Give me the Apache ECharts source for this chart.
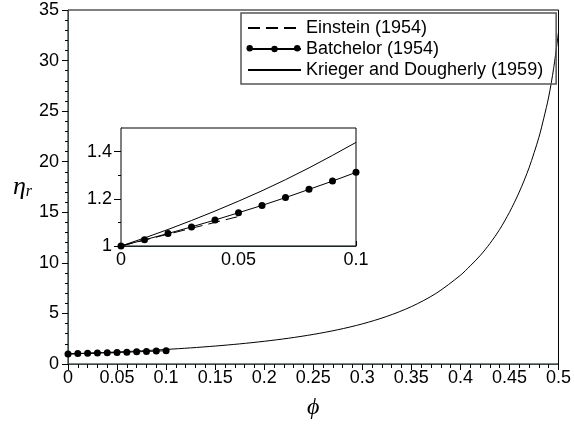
<!DOCTYPE html>
<html><head><meta charset="utf-8">
<script src="https://cdn.jsdelivr.net/npm/echarts@6/dist/echarts.min.js"></script>
<style>html,body{margin:0;padding:0;background:#fff}#c{width:574px;height:426px}</style>
</head><body><div id="c"></div>
<script>
// ---- data ----
const einsteinPhi = [0, 0.05];
const einsteinEta = [1, 1.125];

const batchelorPhi = [0, 0.01, 0.02, 0.03, 0.04, 0.05, 0.06, 0.07, 0.08, 0.09, 0.1];
const batchelorEta = [1, 1.026, 1.053, 1.081, 1.11, 1.141, 1.172, 1.205, 1.24, 1.275, 1.312];

const kdPhi = [0, 0.01, 0.02, 0.03, 0.04, 0.05, 0.06, 0.07, 0.08, 0.09, 0.1,
  0.125, 0.15, 0.175, 0.2, 0.225, 0.25, 0.275, 0.3, 0.325, 0.35, 0.375, 0.4,
  0.41, 0.42, 0.43, 0.44, 0.45, 0.46, 0.47, 0.48, 0.485, 0.49, 0.495, 0.5];
const kdEta = [1, 1.034, 1.07, 1.108, 1.148, 1.19, 1.234, 1.281, 1.331, 1.384, 1.439,
  1.594, 1.775, 1.989, 2.244, 2.55, 2.924, 3.385, 3.964, 4.705, 5.672, 6.97, 8.77,
  9.7, 10.7, 11.9, 13.3, 15.0, 17.0, 19.4, 22.4, 24.3, 26.4, 29.2, 32.8];

const names = ['Einstein (1954)', 'Batchelor (1954)', 'Krieger and Dougherly (1959)'];
const insetYLabels = [1, 1.2, 1.4];

const pairs = (xs, ys, maxX) => xs.map((x, i) => [x, ys[i]]).filter(p => maxX === undefined || p[0] <= maxX + 1e-9);

const FONT = "'Liberation Sans', Arial, sans-serif";
const SERIF = "'Liberation Serif', 'DejaVu Serif', serif";
const AXC = '#2f4f4f';

const chart = echarts.init(document.getElementById('c'), null, {renderer: 'canvas'});

chart.setOption({
  animation: false,
  backgroundColor: '#fff',
  grid: [
    {left: 68, right: 11, top: 10, bottom: 62, show: true, borderColor: '#000', borderWidth: 1, backgroundColor: 'transparent'},
    {left: 121, right: 218, top: 128, bottom: 180, show: true, borderColor: '#000', borderWidth: 1, backgroundColor: '#fff', z: 5}
  ],
  legend: {
    orient: 'vertical', left: 241, top: 13, padding: [6, 13, 5, 6],
    itemWidth: 53, itemHeight: 8, itemGap: 3,
    borderColor: '#555', borderWidth: 1.5, backgroundColor: 'transparent', borderRadius: 0,
    textStyle: {fontSize: 18, fontFamily: FONT, color: '#000'},
    data: [
      {name: names[0], itemStyle: {opacity: 0}},
      {name: names[1]},
      {name: names[2], itemStyle: {opacity: 0}}
    ], z: 10
  },
  graphic: [
    {type: 'circle', left: 246.5, top: 45, shape: {r: 3.2}, style: {fill: '#000'}, z: 20},
    {type: 'circle', left: 294, top: 45, shape: {r: 3.2}, style: {fill: '#000'}, z: 20}
  ],
  xAxis: [
    {gridIndex: 0, type: 'value', min: 0, max: 0.5, interval: 0.05,
     axisLine: {lineStyle: {color: AXC, width: 1}},
     axisTick: {show: true, length: 6, lineStyle: {color: '#000'}},
     minorTick: {show: true, splitNumber: 5, length: 4, lineStyle: {color: '#000'}},
     splitLine: {show: false},
     axisLabel: {fontSize: 18, fontFamily: FONT, color: '#000', margin: 5},
     name: '\u03d5', nameLocation: 'middle', nameGap: 32,
     nameTextStyle: {fontFamily: SERIF, fontStyle: 'italic', fontSize: 24, color: '#000'}},
    {gridIndex: 1, type: 'value', min: 0, max: 0.1, interval: 0.05,
     axisLine: {lineStyle: {color: AXC, width: 1}},
     axisTick: {show: true, inside: true, length: 5, lineStyle: {color: '#000'}},
     minorTick: {show: true, splitNumber: 5, length: 3, lineStyle: {color: '#000'}},
     splitLine: {show: false},
     axisLabel: {fontSize: 18, fontFamily: FONT, color: '#000', margin: 5}}
  ],
  yAxis: [
    {gridIndex: 0, type: 'value', min: 0, max: 35, interval: 5,
     axisLine: {lineStyle: {color: AXC, width: 1}},
     axisTick: {show: true, length: 6, lineStyle: {color: '#000'}},
     minorTick: {show: true, splitNumber: 5, length: 3, lineStyle: {color: '#000'}},
     splitLine: {show: false},
     axisLabel: {fontSize: 18, fontFamily: FONT, color: '#000', margin: 9},
     name: '{e|\u03b7}{s|r}', nameLocation: 'middle', nameRotate: 0, nameGap: 36,
     nameTextStyle: {color: '#000', rich: {
       e: {fontFamily: SERIF, fontStyle: 'italic', fontSize: 26, color: '#000'},
       s: {fontFamily: SERIF, fontStyle: 'italic', fontSize: 16, color: '#000', padding: [10, 0, 0, 0]}
     }}},
    {gridIndex: 1, type: 'value', min: 1, max: 1.5, interval: 0.2,
     axisLine: {lineStyle: {color: '#000', width: 1}},
     axisTick: {show: true, length: 7, lineStyle: {color: '#000'}, customValues: insetYLabels},
     minorTick: {show: true, splitNumber: 2, length: 3, lineStyle: {color: '#000'}},
     splitLine: {show: false},
     axisLabel: {fontSize: 18, fontFamily: FONT, color: '#000', margin: 9, customValues: insetYLabels}}
  ],
  series: [
    {name: names[0], type: 'line', xAxisIndex: 0, yAxisIndex: 0, data: pairs(einsteinPhi, einsteinEta),
     symbol: 'none', lineStyle: {color: '#000', width: 1, type: [12, 6]}, itemStyle: {color: '#000'}, z: 3},
    {name: names[1], type: 'line', xAxisIndex: 0, yAxisIndex: 0, data: pairs(batchelorPhi, batchelorEta),
     symbol: 'circle', symbolSize: 7, showSymbol: true, lineStyle: {color: '#000', width: 1}, itemStyle: {color: '#000'}, z: 3},
    {name: names[2], type: 'line', xAxisIndex: 0, yAxisIndex: 0, data: pairs(kdPhi, kdEta),
     symbol: 'none', smooth: 0.3, lineStyle: {color: '#000', width: 1}, itemStyle: {color: '#000'}, z: 2},
    {name: names[0], type: 'line', xAxisIndex: 1, yAxisIndex: 1, data: pairs(einsteinPhi, einsteinEta),
     symbol: 'none', lineStyle: {color: '#000', width: 1, type: [12, 6]}, itemStyle: {color: '#000'}, z: 6},
    {name: names[1], type: 'line', xAxisIndex: 1, yAxisIndex: 1, data: pairs(batchelorPhi, batchelorEta),
     symbol: 'circle', symbolSize: 7, lineStyle: {color: '#000', width: 1}, itemStyle: {color: '#000'}, z: 6},
    {name: names[2], type: 'line', xAxisIndex: 1, yAxisIndex: 1, data: pairs(kdPhi, kdEta, 0.1),
     symbol: 'none', lineStyle: {color: '#000', width: 1}, itemStyle: {color: '#000'}, z: 6}
  ]
});
</script>
</body></html>
